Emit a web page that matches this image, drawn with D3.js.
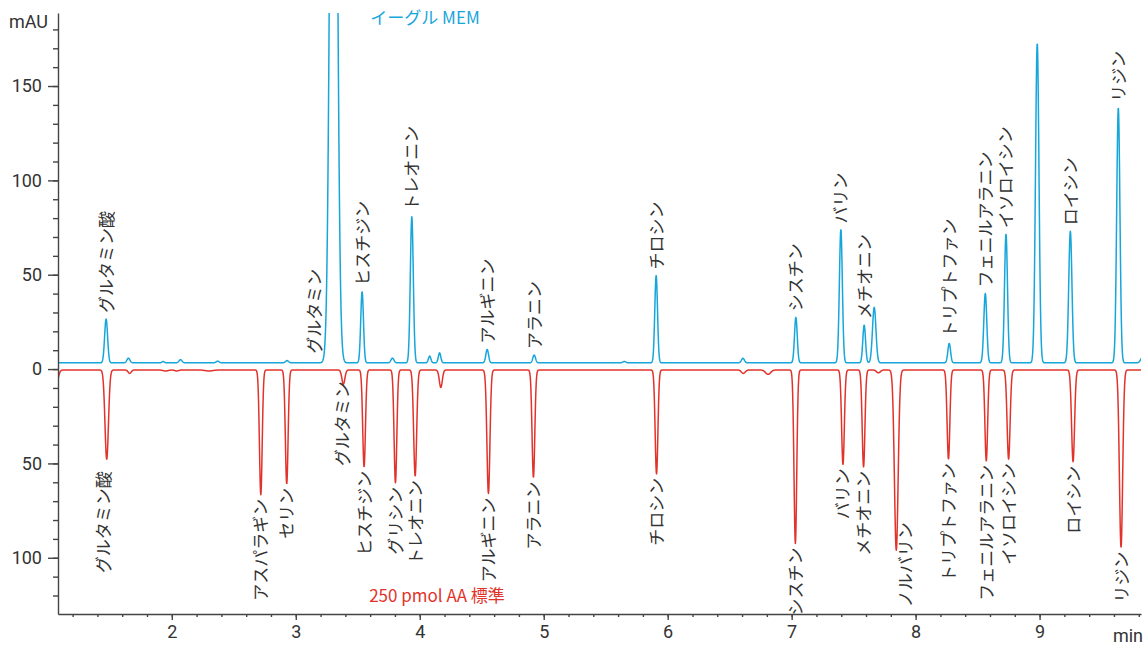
<!DOCTYPE html>
<html lang="ja">
<head>
<meta charset="UTF-8">
<title>アミノ酸クロマトグラム</title>
<script src="https://d3js.org/d3.v7.min.js"></script>
<style>
  body { margin: 0; background: #fff; }
  .axis path, .axis line { stroke: #444; stroke-width: 1.4px; }
  .axis text { font: 18px Roboto, "Noto Sans", sans-serif; fill: #333; }
  .peak-label { font: 17px "Noto Sans CJK JP", sans-serif; fill: #333; }
  .trace { fill: none; stroke-width: 1.5px; stroke-linejoin: round; }
</style>
</head>
<body>
<div id="chart"></div>
<script>
// retention time (min), apex (mAU), peak sigma (min), label
const memTimes   = [1.47, 1.65, 1.93, 2.07, 2.37, 2.93, 3.305, 3.535, 3.78, 3.936, 4.08, 4.16, 4.544, 4.923, 5.65, 5.907, 6.607, 7.034, 7.397, 7.585, 7.666, 8.271, 8.562, 8.729, 8.981, 9.248, 9.635, 9.85];
const memApex    = [26.5, 5.8, 4.0, 5.0, 4.2, 4.5, 520, 41, 5.8, 80.7, 6.9, 8.6, 10.4, 7.4, 4.0, 49.6, 5.7, 27.4, 74, 23.3, 32.7, 13.6, 40, 71.5, 172.6, 73, 138.5, 12];
const memWidth   = [0.012, 0.012, 0.01, 0.012, 0.012, 0.012, 0.025, 0.011, 0.012, 0.012, 0.01, 0.01, 0.011, 0.011, 0.012, 0.011, 0.012, 0.011, 0.012, 0.011, 0.014, 0.011, 0.012, 0.012, 0.014, 0.013, 0.013, 0.02];
const memLabels  = ["グルタミン酸", "", "", "", "", "", "グルタミン", "ヒスチジン", "", "トレオニン", "", "", "アルギニン", "アラニン", "", "チロシン", "", "シスチン", "バリン", "メチオニン", "", "トリプトファン", "フェニルアラニン", "イソロイシン", "", "ロイシン", "リジン", ""];
const memBase = 3.3;

const stdTimes   = [1.07, 1.475, 1.66, 1.95, 2.04, 2.3, 2.718, 2.927, 3.384, 3.551, 3.804, 3.963, 4.17, 4.554, 4.917, 5.91, 6.61, 6.81, 7.03, 7.414, 7.58, 7.70, 7.844, 8.265, 8.57, 8.75, 9.27, 9.657];
const stdApex    = [-7, -47.8, -2.3, -1, -1, -1, -66.6, -60.8, -8, -51.8, -60.2, -56.7, -9.7, -65.9, -57.4, -55.5, -2.3, -2.8, -92.4, -50.5, -51.8, -2, -96, -47.7, -48.6, -47.7, -49.1, -94.5];
const stdWidth   = [0.015, 0.014, 0.012, 0.02, 0.015, 0.03, 0.011, 0.011, 0.012, 0.011, 0.011, 0.012, 0.012, 0.012, 0.011, 0.011, 0.015, 0.02, 0.011, 0.011, 0.011, 0.015, 0.015, 0.011, 0.011, 0.012, 0.012, 0.013];
const stdLabels  = ["", "グルタミン酸", "", "", "", "", "アスパラギン", "セリン", "グルタミン", "ヒスチジン", "グリシン", "トレオニン", "", "アルギニン", "アラニン", "チロシン", "", "", "シスチン", "バリン", "メチオニン", "", "ノルバリン", "トリプトファン", "フェニルアラニン", "イソロイシン", "ロイシン", "リジン"];
const stdBase = -0.5;

const xMajorTicks = [2, 3, 4, 5, 6, 7, 8, 9];
const yMajorTicks = [-100, -50, 0, 50, 100, 150];

const width = 1146, height = 648;
const x = d3.scaleLinear().domain([1.082, 9.818]).range([58, 1141]);
const y = d3.scaleLinear().domain([-129.8, 188.7]).range([614, 13]);

const svg = d3.select("#chart").append("svg")
  .attr("width", width).attr("height", height);

svg.append("defs").append("clipPath").attr("id", "plot")
  .append("rect").attr("x", 58).attr("y", 13).attr("width", 1083).attr("height", 601);

function trace(times, apex, widths, base) {
  const pts = [];
  for (let t = 1.082; t <= 9.818; t += 0.002) {
    let v = base;
    for (let i = 0; i < times.length; i++) {
      const z = (t - times[i]) / widths[i];
      if (Math.abs(z) < 8) v += (apex[i] - base) * Math.exp(-0.5 * z * z);
    }
    pts.push([t, v]);
  }
  return pts;
}

const line = d3.line().x(d => x(d[0])).y(d => y(d[1]));
const plot = svg.append("g").attr("clip-path", "url(#plot)");

plot.append("path").attr("class", "trace").attr("stroke", "#e2332b")
  .attr("d", line(trace(stdTimes, stdApex, stdWidth, stdBase)));
plot.append("path").attr("class", "trace").attr("stroke", "#17a6da")
  .attr("d", line(trace(memTimes, memApex, memWidth, memBase)));

// axes
svg.append("g").attr("class", "axis").attr("transform", "translate(0,614)")
  .call(d3.axisBottom(x).tickValues(d3.range(1.2, 9.81, 0.2)).tickSize(3).tickFormat(""))
  .call(g => g.select(".domain").remove());
svg.append("g").attr("class", "axis").attr("transform", "translate(0,614)")
  .call(d3.axisBottom(x).tickValues(xMajorTicks).tickSize(6).tickSizeOuter(0).tickPadding(5).tickFormat(d3.format("d")));

svg.append("g").attr("class", "axis").attr("transform", "translate(58,0)")
  .call(d3.axisLeft(y).tickValues(d3.range(-120, 181, 10)).tickSize(5).tickFormat(""))
  .call(g => g.select(".domain").remove());
svg.append("g").attr("class", "axis").attr("transform", "translate(58,0)")
  .call(d3.axisLeft(y).tickValues(yMajorTicks).tickSize(10).tickSizeOuter(0).tickPadding(6).tickFormat(d => Math.abs(d)));

svg.append("text").attr("x", 48).attr("y", 28)
  .attr("text-anchor", "end").style("font", "18px Roboto, sans-serif").style("fill", "#333").text("mAU");
svg.append("text").attr("x", 1143).attr("y", 642)
  .attr("text-anchor", "end").style("font", "18px Roboto, sans-serif").style("fill", "#333").text("min");

// series titles
svg.append("text").attr("x", 425).attr("y", 24).attr("text-anchor", "middle")
  .style("font", "17px 'Noto Sans CJK JP', sans-serif").style("fill", "#17a6da").text("イーグル MEM");
svg.append("text").attr("x", 437).attr("y", 602).attr("text-anchor", "middle")
  .style("font", "17px 'Noto Sans CJK JP', sans-serif").style("fill", "#e2332b").text("250 pmol AA 標準");

// peak labels (rotated), nudges for crowded spots
const memNudge = { "グルタミン": [-19, 0] };
const stdNudge = { "グルタミン": [-1, -7], "ノルバリン": [9, -32], "グルタミン酸": [-3, 8] };

memLabels.forEach((name, i) => {
  if (!name) return;
  const n = memNudge[name] || [0, 0];
  const px = x(memTimes[i]) - 1 + n[0];
  const py = name === "グルタミン" ? y(memBase) - 9 : y(memApex[i]) - 6 + n[1];
  svg.append("text").attr("class", "peak-label")
    .attr("transform", `translate(${px},${py}) rotate(-90)`)
    .attr("dominant-baseline", "central")
    .attr("text-anchor", "start").text(name);
});

stdLabels.forEach((name, i) => {
  if (!name) return;
  const n = stdNudge[name] || [0, 0];
  const px = x(stdTimes[i]) - 1 + n[0];
  const py = y(stdApex[i]) + 4 + n[1];
  svg.append("text").attr("class", "peak-label")
    .attr("transform", `translate(${px},${py}) rotate(-90)`)
    .attr("dominant-baseline", "central")
    .attr("text-anchor", "end").text(name);
});
</script>
</body>
</html>
